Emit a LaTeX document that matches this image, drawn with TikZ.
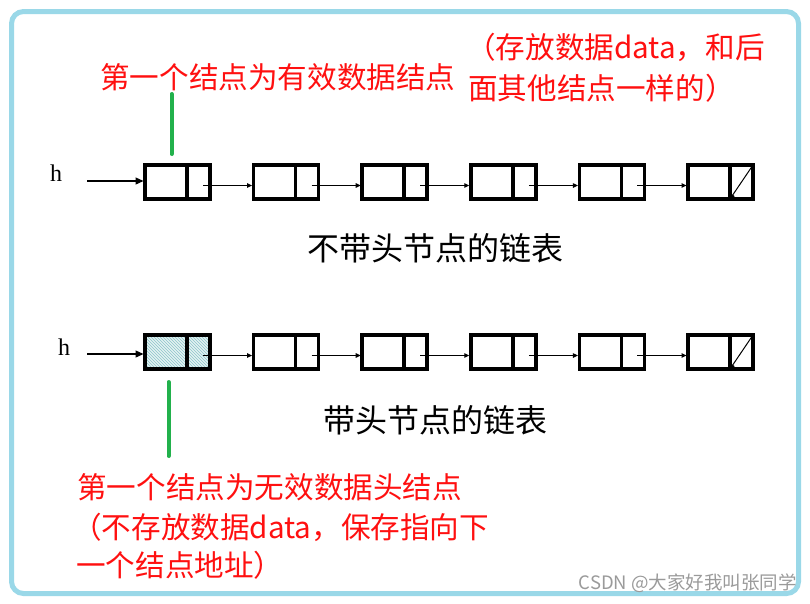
\documentclass[tikz,border=0pt]{standalone}
\usepackage{fontspec}
\newfontfamily\cjk{Noto Sans CJK SC}
\newfontfamily\hfont{Liberation Serif}
\usetikzlibrary{arrows.meta,patterns}
\definecolor{bordercol}{HTML}{9AD8E8}
\definecolor{redtext}{HTML}{FF1010}
\definecolor{greenbar}{HTML}{22B14C}
\definecolor{hatchfill}{HTML}{E4F2F2}
\definecolor{hatchline}{HTML}{8CC4CA}
\definecolor{wmgray}{HTML}{9A9A9A}
\begin{document}
\begin{tikzpicture}[x=1pt,y=-1pt,
  datapart/.style={draw,line width=3.5pt,minimum width=42pt,minimum height=34pt,inner sep=0pt,outer sep=0pt},
  ptrpart/.style={datapart,minimum width=23pt},
  hatched/.style={preaction={fill=hatchfill},pattern=north west lines,pattern color=hatchline},
  link/.style={line width=1.1pt,-{Triangle[length=5pt,width=4.5pt]}},
  headarrow/.style={line width=1.2pt,-{Triangle[length=8pt,width=7pt]}},
  redlabel/.style={text=redtext,font=\cjk\fontsize{29.6}{36}\selectfont,inner sep=0pt,anchor=west},
  blacklabel/.style={text=black,font=\cjk\fontsize{32}{38}\selectfont,inner sep=0pt},
  hlabel/.style={font=\hfont\fontsize{24}{28}\selectfont,inner sep=0pt,anchor=base west},
  greenmark/.style={draw=greenbar,line width=4pt,line cap=round}]
\useasboundingbox (0,0) rectangle (810,603);
\draw[bordercol,line width=5pt,rounded corners=12pt] (11.5,11.5) rectangle (798.5,593.5);

% row 1
\foreach \i in {1,...,6} {
  \pgfmathsetmacro\L{145+108.6*(\i-1)}
  \node[datapart] (a\i) at (\L+21,182) {};
  \node[ptrpart] (b\i) at (\L+53.5,182) {};
}
% row 2
\node[datapart,hatched] (c1) at (166,352) {};
\node[ptrpart,hatched] (d1) at (198.5,352) {};
\foreach \i in {2,...,6} {
  \pgfmathsetmacro\L{145+108.6*(\i-1)}
  \node[datapart] (c\i) at (\L+21,352) {};
  \node[ptrpart] (d\i) at (\L+53.5,352) {};
}

\foreach \i/\j in {1/2,2/3,3/4,4/5,5/6} {
  \draw[link] ([xshift=4.5pt,yshift=-3.5pt]b\i.center) -- ([xshift=-1.5pt,yshift=-3.5pt]a\j.west);
  \draw[link] ([xshift=4.5pt,yshift=-3.5pt]d\i.center) -- ([xshift=-1.5pt,yshift=-3.5pt]c\j.west);
}
\draw[line width=1pt,-{Triangle[length=5pt,width=4.5pt]}] (b6.north east) -- (b6.south west);
\draw[line width=1pt,-{Triangle[length=5pt,width=4.5pt]}] (d6.north east) -- (d6.south west);

% heads
\node[hlabel] (h1) at (50,181) {h};
\node[hlabel] (h2) at (58,355) {h};
\coordinate (s1) at (87,181);
\coordinate (s2) at (87,354);
\draw[headarrow] (s1) -- ([xshift=-1.5pt]a1.west |- s1);
\draw[headarrow] (s2) -- ([xshift=-1.5pt]c1.west |- s2);

% green marks
\draw[greenmark] (171.5,94) -- (171.5,154);
\draw[greenmark] (168.5,382) -- (168.5,456);

% texts
\node[redlabel] (t1) at (100,77) {第一个结点为有效数据结点};
\node[redlabel] (t2) at (466,47) {（存放数据data，和后};
\node[redlabel] (t3) at (468,88) {面其他结点一样的）};
\node[blacklabel] (cap1) at (435,248) {不带头节点的链表};
\node[blacklabel] (cap2) at (435,420) {带头节点的链表};
\node[redlabel] (t4) at (77,487) {第一个结点为无效数据头结点};
\node[redlabel] (t5) at (72,527) {（不存放数据data，保存指向下};
\node[redlabel] (t6) at (76,565) {一个结点地址）};
\node[anchor=east,inner sep=0pt,text=wmgray,font=\cjk\fontsize{18.5}{22}\selectfont] (wm) at (797,583) {CSDN @大家好我叫张同学};
\end{tikzpicture}
\end{document}
